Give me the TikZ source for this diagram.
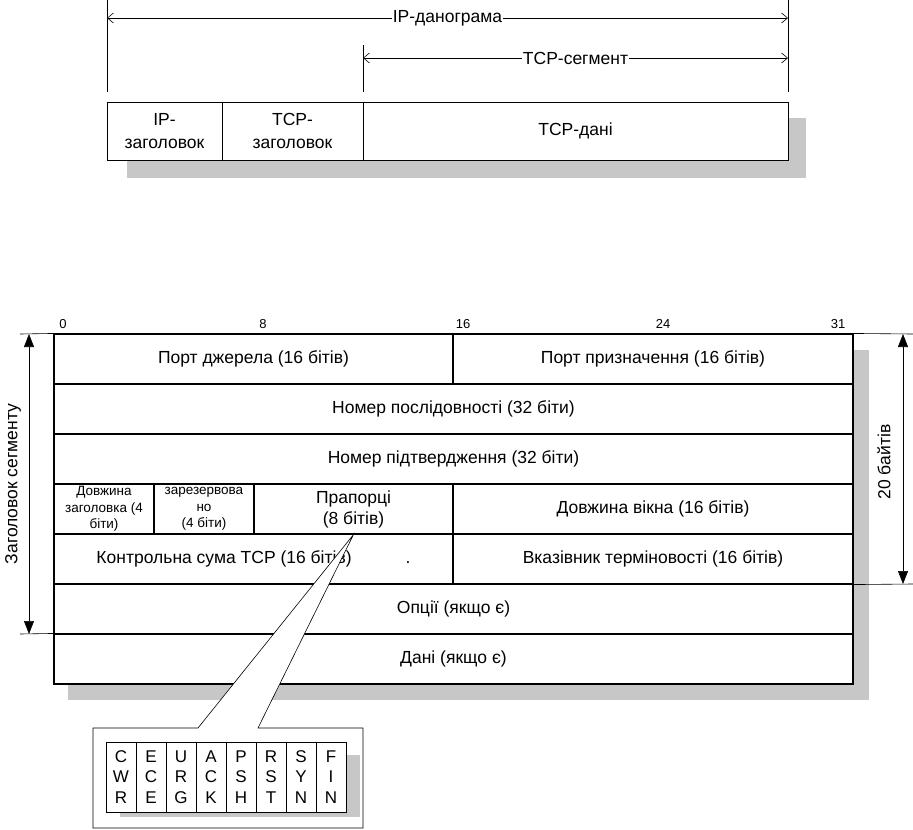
\documentclass[tikz,border=0pt]{standalone}
\usepackage{fontspec}
\setmainfont{Liberation Sans}
\usetikzlibrary{arrows.meta}
\begin{document}
\begin{tikzpicture}[x=1pt,y=-1pt,
  fld/.style={draw,line width=1.1pt,fill=white,inner sep=0pt,minimum height=50pt,align=center,font=\fontsize{17.5}{21}\selectfont},
  small/.style={font=\fontsize{13.5}{16.5}\selectfont},
  box/.style={draw,line width=0.8pt,fill=white,inner sep=0pt,minimum height=58pt,align=center,font=\fontsize{17.5}{23}\selectfont},
  flag/.style={draw,line width=0.9pt,fill=white,inner sep=0pt,minimum width=30pt,minimum height=70pt,align=center,font=\fontsize{17}{20.5}\selectfont},
  bitno/.style={font=\fontsize{13}{15}\selectfont,inner sep=0pt},
  lbl/.style={font=\fontsize{17.5}{21}\selectfont},
  shade/.style={fill=black!22},
  dim/.style={line width=0.6pt},
  barb/.style={dim,{Straight Barb[length=6pt,width=10pt]}-{Straight Barb[length=6pt,width=10pt]}},
  tri/.style={dim,{Triangle[length=13pt,width=10pt]}-{Triangle[length=13pt,width=10pt]}}]
  \useasboundingbox (0,0) rectangle (913,830);

  \fill[shade] (127,118) rectangle (806,178);
  \node[box,minimum width=115pt] at (164.5,131) (iphdr) {IP-\\заголовок};
  \node[box,minimum width=141pt] at (292.5,131) (tcphdr) {TCP-\\заголовок};
  \node[box,minimum width=425pt] at (575.5,131) (tcpdata) {TCP-дані};
  \coordinate (ipA) at (107,0);   \coordinate (ipB) at (107,92);
  \coordinate (ipC) at (788,0);   \coordinate (ipD) at (788,92);
  \coordinate (tcpA) at (363,45); \coordinate (tcpB) at (363,92);
  \draw[dim] (ipA) -- (ipB);
  \draw[dim] (ipC) -- (ipD);
  \draw[dim] (tcpA) -- (tcpB);
  \coordinate (ipL) at (107,18);  \coordinate (ipR) at (788,18);
  \coordinate (tcpL) at (363,58); \coordinate (tcpR) at (788,58);
  \draw[barb] (ipL) -- (ipR) node[midway,fill=white,inner sep=1pt,lbl] (iplbl) {IP-даногрaма};
  \draw[barb] (tcpL) -- (tcpR) node[midway,fill=white,inner sep=1pt,lbl] (tcplbl) {TCP-сегмент};

  \fill[shade] (68,350) rectangle (869,700);
  \foreach \b in {0,8,16,24,31}
    \node[bitno] at ({54+25*\b+9},324) (bit\b) {\b};
  \node[fld,minimum width=399pt] at (253.5,359) (src) {Порт джерела (16 бітів)};
  \node[fld,minimum width=400pt] at (653,359) (dst) {Порт призначення (16 бітів)};
  \node[fld,minimum width=799pt] at (453.5,409) (seq) {Номер послідовності (32 біти)};
  \node[fld,minimum width=799pt] at (453.5,459) (ack) {Номер підтвердження (32 біти)};
  \node[fld,small,minimum width=100pt] at (104,509) (hlen) {Довжина\\заголовка (4\\біти)};
  \node[fld,small,minimum width=100pt] at (204,509) (rsv) {зарезервова\\но\\(4 біти)};
  \node[fld,minimum width=199pt] at (353.5,509) (flags) {Прапорці\\(8 бітів)};
  \node[fld,minimum width=400pt] at (653,509) (win) {Довжина вікна (16 бітів)};
  \node[fld,minimum width=399pt] at (253.5,559) (csum) {Контрольна сума TCP (16 бітів)\hspace{54pt}.};
  \node[fld,minimum width=400pt] at (653,559) (urg) {Вказівник терміновості (16 бітів)};
  \node[fld,minimum width=799pt] at (453.5,609) (opt) {Опції (якщо є)};
  \node[fld,minimum width=799pt] at (453.5,659) (data) {Дані (якщо є)};

  \coordinate (lt) at (20,334); \coordinate (lb) at (20,634);
  \draw[dim] (lt) -- (src.north west);
  \draw[dim] (lb) -- (data.north west);
  \coordinate (hdrTop) at (29,334); \coordinate (hdrBot) at (29,634);
  \draw[tri] (hdrTop) -- (hdrBot);
  \node[rotate=90,lbl] at (13,484) (hdrlbl) {Заголовок сегменту};
  \coordinate (rt) at (913,334); \coordinate (rb) at (913,584);
  \draw[dim] (dst.north east) -- (rt);
  \draw[dim] (urg.south east) -- (rb);
  \coordinate (lenTop) at (903,334); \coordinate (lenBot) at (903,584);
  \draw[tri] (lenTop) -- (lenBot);
  \node[rotate=90,lbl] at (884,462) (lenlbl) {20 байтів};

  \coordinate (tip) at (flags.south);
  \filldraw[fill=white,line width=0.6pt] (tip) -- (198,728) -- (93,728) -- (93,828) -- (363,828) -- (363,728) -- (258,728) -- cycle;
  \fill[shade] (120,755) rectangle (360,817);
  \foreach \f [count=\i from 0] in {{C\\W\\R},{E\\C\\E},{U\\R\\G},{A\\C\\K},{P\\S\\H},{R\\S\\T},{S\\Y\\N},{F\\I\\N}}
    \node[flag] at ({121+30*\i},777) (f\i) {\f};
\end{tikzpicture}
\end{document}
